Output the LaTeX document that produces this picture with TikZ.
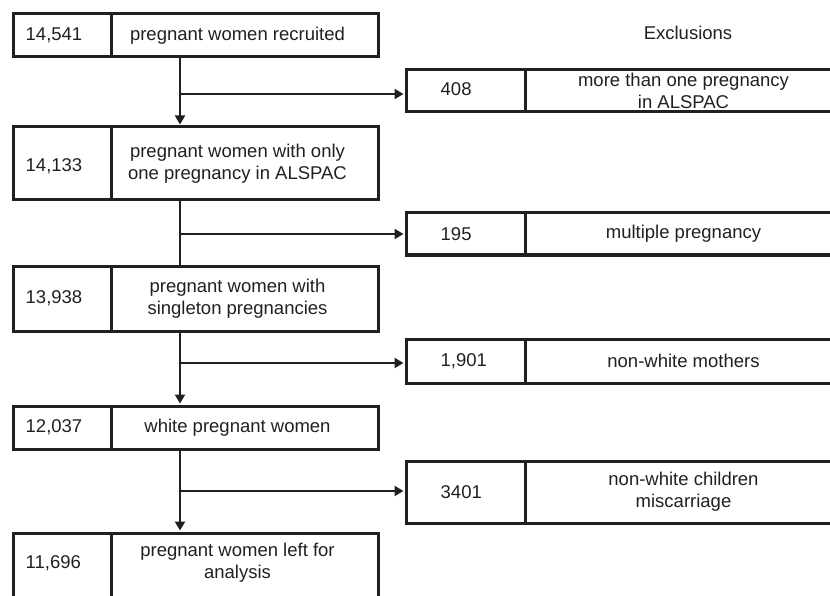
\documentclass[tikz,border=0pt]{standalone}
\usepackage{fontspec}
\setmainfont{Liberation Sans}
\usetikzlibrary{arrows.meta}
\definecolor{ink}{RGB}{35,31,32}
\begin{document}
\begin{tikzpicture}[x=1pt,y=-1pt,
  cell/.style={draw=ink, line width=3pt, rectangle, inner sep=0pt},
  txt/.style={align=center, text=ink, inner sep=0pt, font=\fontsize{18.5}{22}\selectfont},
  conn/.style={draw=ink, line width=2pt},
  arr/.style={-{Triangle[width=10pt,length=9pt]}, shorten >=1pt}]
\useasboundingbox (0,0) rectangle (830,596);
\clip (0,0) rectangle (830,596);

% left column boxes
\node[cell, minimum width=98pt, minimum height=43pt] (b1n) at (62,35.5) {};
\node[cell, minimum width=267pt, minimum height=43pt] (b1t) at (244.5,35.5) {};
\node[cell, minimum width=98pt, minimum height=73pt] (b2n) at (62,163.5) {};
\node[cell, minimum width=267pt, minimum height=73pt] (b2t) at (244.5,163.5) {};
\node[cell, minimum width=98pt, minimum height=65pt] (b3n) at (62,298.5) {};
\node[cell, minimum width=267pt, minimum height=65pt] (b3t) at (244.5,298.5) {};
\node[cell, minimum width=98pt, minimum height=43pt] (b4n) at (62,427.5) {};
\node[cell, minimum width=267pt, minimum height=43pt] (b4t) at (244.5,427.5) {};
\node[cell, minimum width=98pt, minimum height=67pt] (b5n) at (62,566.5) {};
\node[cell, minimum width=267pt, minimum height=67pt] (b5t) at (244.5,566.5) {};

% right column boxes
\node[cell, minimum width=119pt, minimum height=42pt] (r1n) at (465.5,91) {};
\node[cell, minimum width=317pt, minimum height=42pt] (r1t) at (683.5,91) {};
\node[cell, minimum width=119pt, minimum height=42pt] (r2n) at (465.5,234) {};
\node[cell, minimum width=317pt, minimum height=42pt] (r2t) at (683.5,234) {};
\node[cell, minimum width=119pt, minimum height=44pt] (r3n) at (465.5,361) {};
\node[cell, minimum width=317pt, minimum height=44pt] (r3t) at (683.5,361) {};
\node[cell, minimum width=119pt, minimum height=62pt] (r4n) at (465.5,492) {};
\node[cell, minimum width=317pt, minimum height=62pt] (r4t) at (683.5,492) {};

% texts
\node[txt] (excl) at (688,33) {Exclusions};

\node[txt, anchor=west] (b1nx) at ([xshift=14pt]b1n.west) {14,541};
\node[txt] (b1tx) at ([xshift=-7pt]b1t.center) {pregnant women recruited};
\node[txt, anchor=west] (b2nx) at ([xshift=14pt,yshift=-3pt]b2n.west) {14,133};
\node[txt] (b2tx) at ([xshift=-7pt]b2t.center) {pregnant women with only\\one pregnancy in ALSPAC};
\node[txt, anchor=west] (b3nx) at ([xshift=14pt]b3n.west) {13,938};
\node[txt] (b3tx) at ([xshift=-7pt]b3t.center) {pregnant women with\\singleton pregnancies};
\node[txt, anchor=west] (b4nx) at ([xshift=14pt]b4n.west) {12,037};
\node[txt] (b4tx) at ([xshift=-7pt]b4t.center) {white pregnant women};
\node[txt, anchor=west] (b5nx) at ([xshift=14pt,yshift=3.5pt]b5n.west) {11,696};
\node[txt] (b5tx) at ([xshift=-7pt,yshift=3.5pt]b5t.center) {pregnant women left for\\analysis};

\node[txt, anchor=west] (r1nx) at ([xshift=36pt,yshift=2pt]r1n.west) {408};
\node[txt] (r1tx) at (r1t.center) {more than one pregnancy\\in ALSPAC};
\node[txt, anchor=west] (r2nx) at ([xshift=36pt]r2n.west) {195};
\node[txt] (r2tx) at (r2t.center) {multiple pregnancy};
\node[txt, anchor=west] (r3nx) at ([xshift=36pt]r3n.west) {1,901};
\node[txt] (r3tx) at (r3t.center) {non-white mothers};
\node[txt, anchor=west] (r4nx) at ([xshift=36pt]r4n.west) {3401};
\node[txt] (r4tx) at (r4t.center) {non-white children\\miscarriage};

% spine points
\coordinate (s1) at (180,94);
\coordinate (s2) at (180,234);
\coordinate (s3) at (180,363);
\coordinate (s4) at (180,491);

% vertical flow
\draw[conn,arr] (s1 |- b1t.south) -- (s1 |- b2t.north);
\draw[conn] (s2 |- b2t.south) -- (s2 |- b3t.north);
\draw[conn,arr] (s3 |- b3t.south) -- (s3 |- b4t.north);
\draw[conn,arr] (s4 |- b4t.south) -- (s4 |- b5t.north);

% exclusion branches
\draw[conn,arr] (s1) -- (s1 -| r1n.west);
\draw[conn,arr] (s2) -- (s2 -| r2n.west);
\draw[conn,arr] (s3) -- (s3 -| r3n.west);
\draw[conn,arr] (s4) -- (s4 -| r4n.west);
\end{tikzpicture}
\end{document}
